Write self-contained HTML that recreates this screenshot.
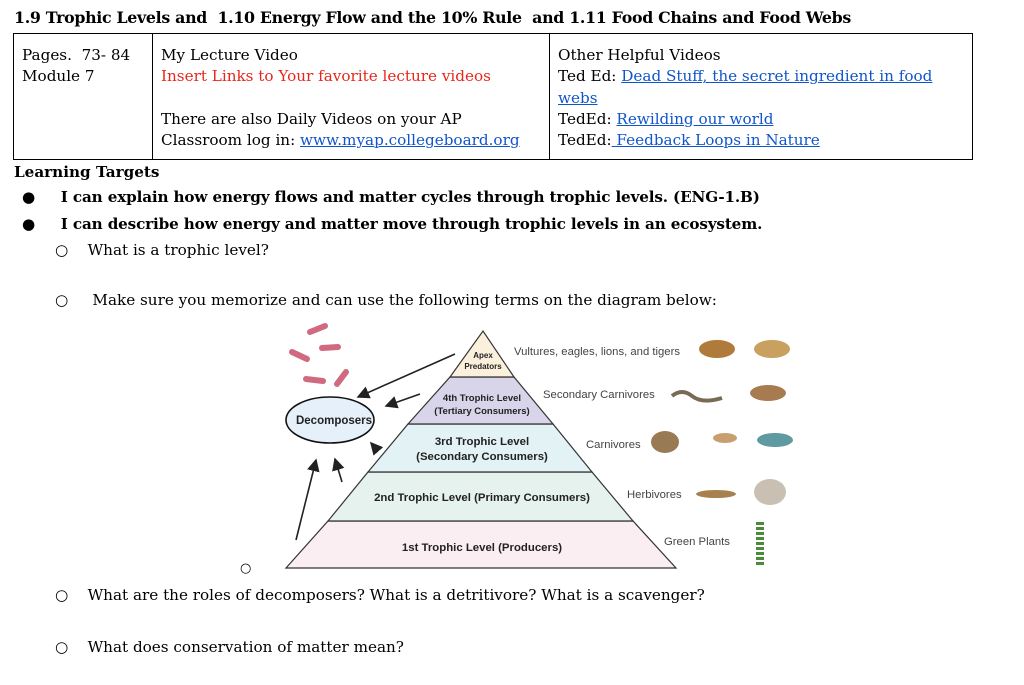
<!DOCTYPE html>
<html><head><meta charset="utf-8"><style>
body{margin:0;width:1024px;height:685px;background:#fff;font-family:"DejaVu Serif","Liberation Serif",serif;color:#000;position:relative;overflow:hidden}
.t{position:absolute;white-space:nowrap;font-size:15.2px}
.b{font-weight:bold}
a{color:#1155cc;text-decoration:underline}
.red{color:#e8261c}
table{position:absolute;left:13px;top:33px;width:960px;height:127px;border-collapse:collapse}
td{border:1.5px solid #000;vertical-align:top;padding:11px 8px 0 8px;font-size:15.2px;line-height:21.3px}
</style></head><body>
<div class="t b" style="left:14px;top:8px;font-size:15.8px;letter-spacing:-0.3px">1.9 Trophic Levels and&nbsp; 1.10 Energy Flow and the 10% Rule&nbsp; and 1.11 Food Chains and Food Webs</div>
<table><tr>
<td style="width:122px">Pages.&nbsp; 73- 84<br>Module 7</td>
<td style="width:380px">My Lecture Video<br><span class="red">Insert Links to Your favorite lecture videos</span><br><br>There are also Daily Videos on your AP<br>Classroom log in: <a>www.myap.collegeboard.org</a></td>
<td>Other Helpful Videos<br>Ted Ed: <a>Dead Stuff, the secret ingredient in food webs</a><br>TedEd: <a>Rewilding our world</a><br>TedEd:<a> Feedback Loops in Nature</a></td>
</tr></table>
<div class="t b" style="left:14px;top:163px">Learning Targets</div>
<div class="t b" style="left:22px;top:188px;letter-spacing:-0.15px">●&nbsp;&nbsp;&nbsp;&nbsp; I can explain how energy flows and matter cycles through trophic levels. (ENG-1.B)</div>
<div class="t b" style="left:22px;top:215px;letter-spacing:-0.15px">●&nbsp;&nbsp;&nbsp;&nbsp; I can describe how energy and matter move through trophic levels in an ecosystem.</div>
<div class="t" style="left:55px;top:241px">○&nbsp;&nbsp;&nbsp; What is a trophic level?</div>
<div class="t" style="left:55px;top:291px">○&nbsp;&nbsp;&nbsp;&nbsp; Make sure you memorize and can use the following terms on the diagram below:</div>
<div class="t" style="left:240px;top:561px;font-size:13px">○</div>
<div class="t" style="left:55px;top:586px">○&nbsp;&nbsp;&nbsp; What are the roles of decomposers? What is a detritivore? What is a scavenger?</div>
<div class="t" style="left:55px;top:638px">○&nbsp;&nbsp;&nbsp; What does conservation of matter mean?</div>
<svg style="position:absolute;left:0;top:0" width="1024" height="685" font-family="Liberation Sans,sans-serif" font-weight="bold" fill="#222">
<defs><marker id="ar" markerWidth="8" markerHeight="8" refX="7" refY="4" orient="auto"><path d="M0,0L8,4L0,8z" fill="#222"/></marker></defs>
<g stroke="#333" stroke-width="1.2">
<polygon points="286,568 676,568 633,521 328,521" fill="#fbeef3"/>
<polygon points="328,521 633,521 592,472 368,472" fill="#e6f2ee"/>
<polygon points="368,472 592,472 553,424 408,424" fill="#e3f2f4"/>
<polygon points="408,424 553,424 514,377 450,377" fill="#d8d5ea"/>
<polygon points="450,377 514,377 483,331" fill="#fbf0dc"/>
<ellipse cx="330" cy="420" rx="44" ry="23" fill="#e6f0fa" stroke="#111" stroke-width="1.6"/>
</g>
<g font-size="11.4" text-anchor="middle">
<text x="482" y="551">1st Trophic Level (Producers)</text>
<text x="482" y="501">2nd Trophic Level (Primary Consumers)</text>
<text x="482" y="445">3rd Trophic Level</text><text x="482" y="460">(Secondary Consumers)</text>
<text x="482" y="401" font-size="9.5">4th Trophic Level</text><text x="482" y="414" font-size="9.5">(Tertiary Consumers)</text>
<text x="483" y="358" font-size="8">Apex</text><text x="483" y="369" font-size="8">Predators</text>
<text x="334" y="424" font-size="11.5">Decomposers</text>
</g>
<g font-size="11.3" font-weight="normal" fill="#444">
<text x="514" y="355">Vultures, eagles, lions, and tigers</text>
<text x="543" y="398">Secondary Carnivores</text>
<text x="586" y="448">Carnivores</text>
<text x="627" y="498">Herbivores</text>
<text x="664" y="545">Green Plants</text>
</g>
<g stroke="#222" stroke-width="1.6" marker-end="url(#ar)">
<line x1="455" y1="354" x2="358" y2="397"/>
<line x1="420" y1="394" x2="386" y2="406"/>
<line x1="378" y1="451" x2="371" y2="443"/>
<line x1="342" y1="482" x2="335" y2="459"/>
<line x1="296" y1="540" x2="316" y2="460"/>
</g>
<g stroke="#d06a80" stroke-width="6" stroke-linecap="round">
<line x1="310" y1="332" x2="325" y2="326"/><line x1="292" y1="352" x2="307" y2="359"/>
<line x1="322" y1="348" x2="338" y2="347"/><line x1="306" y1="379" x2="323" y2="381"/>
<line x1="337" y1="384" x2="346" y2="372"/>
</g>
<g fill="#b07a3a"><ellipse cx="717" cy="349" rx="18" ry="9"/><ellipse cx="772" cy="349" rx="18" ry="9" fill="#c9a060"/>
<path d="M672 396q10-8 20 0t30 2" stroke="#7a6a55" stroke-width="4" fill="none"/>
<ellipse cx="768" cy="393" rx="18" ry="8" fill="#a87a50"/>
<ellipse cx="665" cy="442" rx="14" ry="11" fill="#9a7a55"/><ellipse cx="725" cy="438" rx="12" ry="5" fill="#c8a070"/>
<ellipse cx="775" cy="440" rx="18" ry="7" fill="#5f9aa0"/>
<ellipse cx="716" cy="494" rx="20" ry="4" fill="#a88050"/><ellipse cx="770" cy="492" rx="16" ry="13" fill="#c9bfb2"/>
<path d="M760 522v45" stroke="#4a8a3a" stroke-width="8" fill="none" stroke-dasharray="3 2"/></g>
</svg>
</body></html>
